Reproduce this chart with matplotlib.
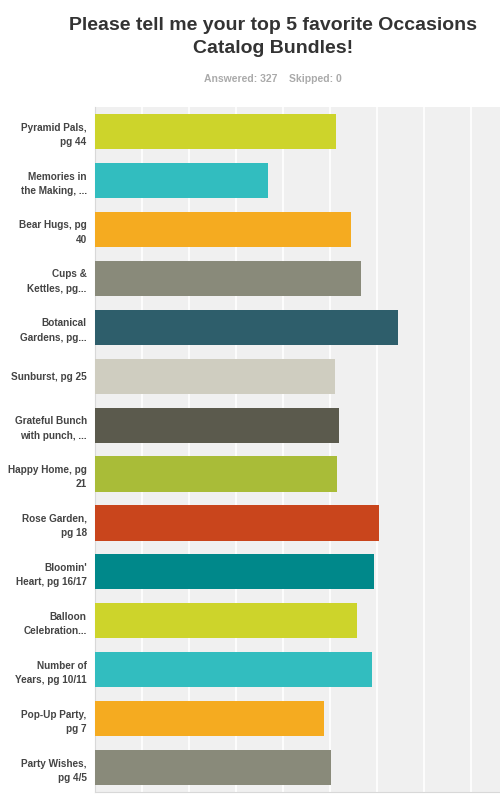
import matplotlib
matplotlib.use("Agg")
import matplotlib.pyplot as plt

plt.rcParams['font.family'] = ['Liberation Sans', 'DejaVu Sans']

labels = ["Pyramid Pals,\npg 44", "Memories in\nthe Making, ...", "Bear Hugs, pg\n40",
          "Cups &\nKettles, pg...", "Botanical\nGardens, pg...", "Sunburst, pg 25",
          "Grateful Bunch\nwith punch, ...", "Happy Home, pg\n21", "Rose Garden,\npg 18",
          "Bloomin'\nHeart, pg 16/17", "Balloon\nCelebration...", "Number of\nYears, pg 10/11",
          "Pop-Up Party,\npg 7", "Party Wishes,\npg 4/5"]
values = [51.3, 36.9, 54.4, 56.7, 64.4, 51.1, 51.9, 51.6, 60.4, 59.4, 55.8, 59.0, 48.8, 50.3]
colors = ["#cdd42b", "#32bdbf", "#f5ab20", "#898a7a", "#2e5e6b", "#cfcdc0", "#5b5a4d",
          "#a9bc38", "#c9451c", "#00888a", "#cdd42b", "#32bdbf", "#f5ab20", "#898a7a"]

fig = plt.figure(figsize=(5, 8), dpi=100)
ax = fig.add_axes([0.19, 0.01, 0.81, 0.856])
ax.set_facecolor("#f0f0f0")

y = list(range(len(labels)))
ax.barh(y, values, height=0.72, color=colors, zorder=3)
ax.set_ylim(len(labels) - 0.5, -0.5)
ax.set_xlim(0, 86.2)

ax.set_xticks(range(10, 90, 10))
ax.xaxis.grid(True, color="white", linewidth=1.2, zorder=1)
ax.tick_params(axis="x", length=0, labelbottom=False)
ax.set_yticks(y)
ax.set_yticklabels(labels, fontsize=7.2, fontweight="bold", color="#444444", linespacing=1.55)
ax.tick_params(axis="y", length=0, pad=6)

for s in ["top", "right"]:
    ax.spines[s].set_visible(False)
for s in ["left", "bottom"]:
    ax.spines[s].set_color("#d8d8d8")

fig.text(0.546, 0.954, "Please tell me your top 5 favorite Occasions\nCatalog Bundles!",
         ha="center", va="center", fontsize=14, fontweight="bold", color="#333333",
         linespacing=1.45)
fig.text(0.546, 0.901, "Answered: 327    Skipped: 0", ha="center", va="center",
         fontsize=7.5, fontweight="bold", color="#aaaaaa")

fig.savefig("out.png", dpi=100)
